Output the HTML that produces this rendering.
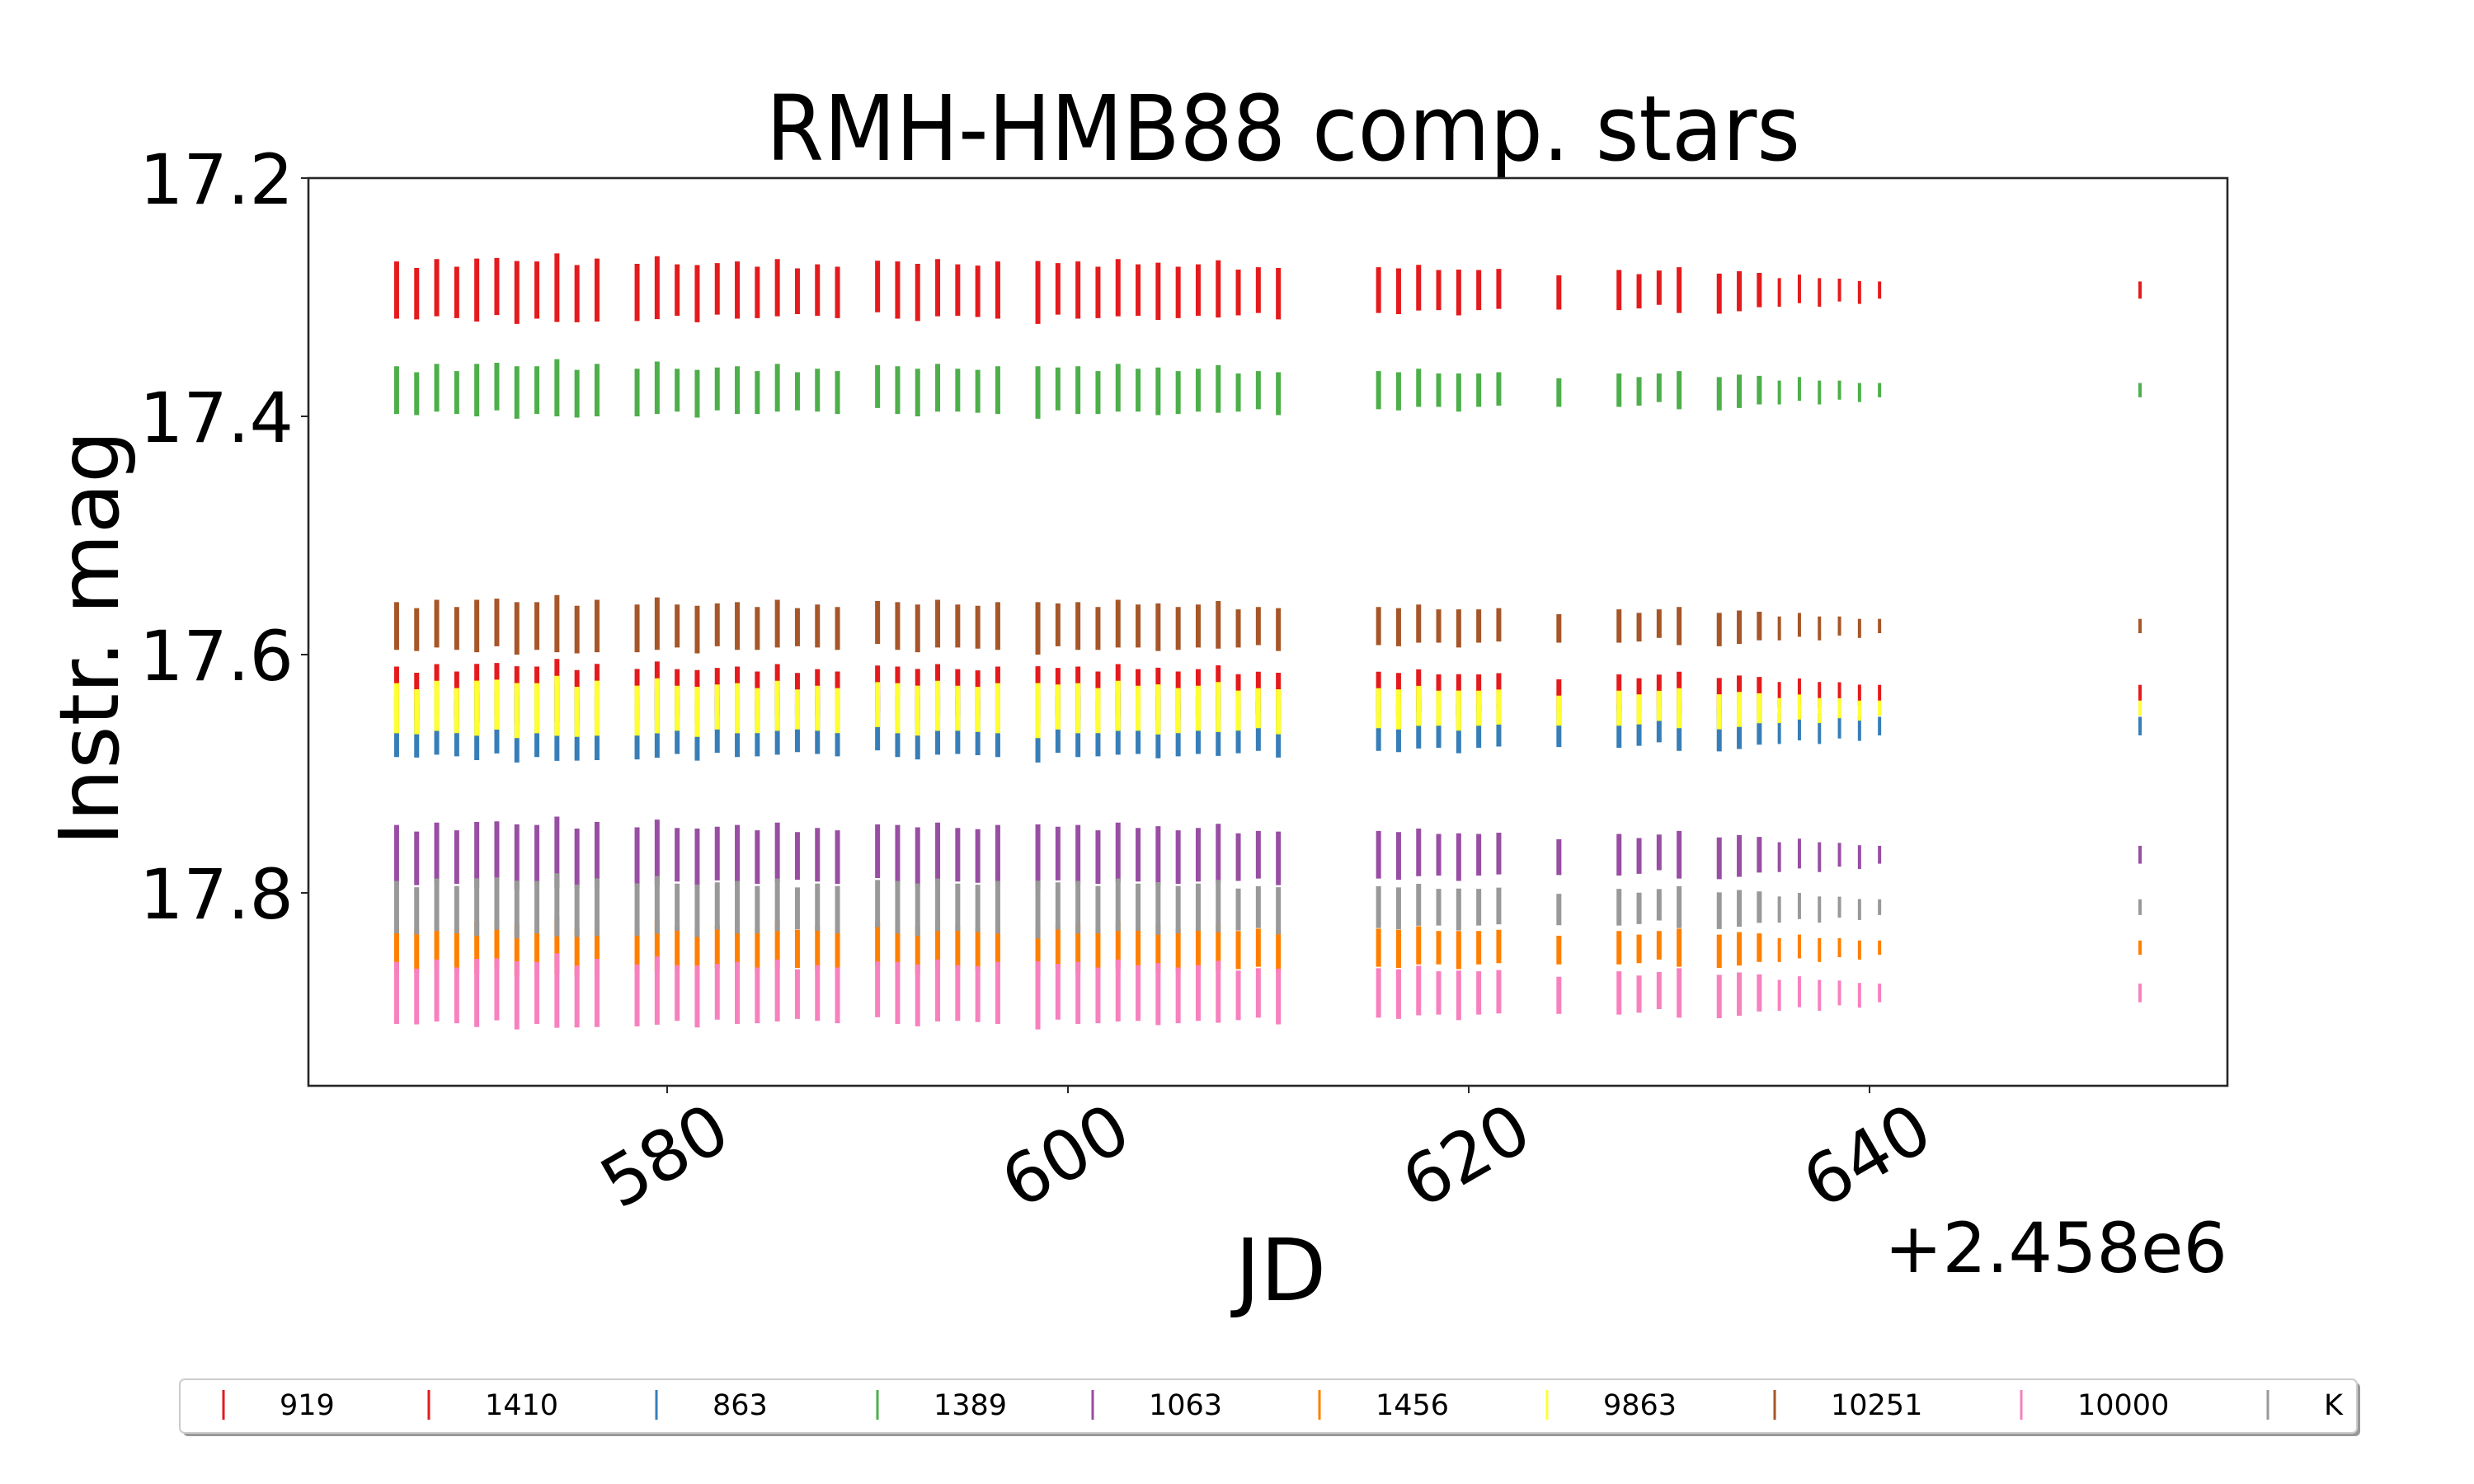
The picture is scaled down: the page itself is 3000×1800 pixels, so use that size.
<!DOCTYPE html>
<html><head><meta charset="utf-8"><style>
html,body{margin:0;padding:0;background:#fff;}
svg{display:block;font-family:"DejaVu Sans","Liberation Sans",sans-serif;}
</style></head><body>
<svg id="chart" width="3000" height="1800" viewBox="0 0 3000 1800" xmlns="http://www.w3.org/2000/svg">
<rect width="3000" height="1800" fill="#fff"/>
<text x="929" y="194" font-size="110" textLength="1254" lengthAdjust="spacingAndGlyphs">RMH-HMB88 comp. stars</text>
<g id="marks"></g>
<rect x="374" y="216" width="2327" height="1101" fill="none" stroke="#262626" stroke-width="2.6"/>
<g id="xticks"></g>
<g id="yticks"></g>
<text x="1553" y="1577" font-size="104" text-anchor="middle">JD</text>
<text x="2701" y="1543" font-size="84" text-anchor="end">+2.458e6</text>
<text transform="translate(143,774) rotate(-90)" font-size="100" text-anchor="middle" textLength="504" lengthAdjust="spacingAndGlyphs">Instr. mag</text>
<g>
<rect x="222" y="1677" width="2640" height="65" rx="6" fill="#999"/>
<rect x="218" y="1673" width="2640" height="65" rx="6" fill="#fff" stroke="#ccc" stroke-width="2"/>
<g id="legend-items"></g>
</g>
</svg>
<script>
const nights = [566.5,567.5,568.5,569.5,570.5,571.5,572.5,573.5,574.5,575.5,576.5,
578.5,579.5,580.5,581.5,582.5,583.5,584.5,585.5,586.5,587.5,588.5,
590.5,591.5,592.5,593.5,594.5,595.5,596.5,
598.5,599.5,600.5,601.5,602.5,603.5,604.5,605.5,606.5,607.5,608.5,609.5,610.5,
615.5,616.5,617.5,618.5,619.5,620.5,621.5,
624.5,
627.5,628.5,629.5,630.5,
632.5,633.5,634.5,635.5,636.5,637.5,638.5,639.5,640.5,
653.5];
const nightAmp = [1.0,0.9,1.0,0.9,1.1,1.0,1.1,1.0,1.2,1.0,1.1,
1.0,1.1,0.9,1.0,0.9,1.0,0.9,1.0,0.8,0.9,0.9,
0.9,1.0,1.0,1.0,0.9,0.9,1.0,
1.1,0.9,1.0,0.9,1.0,0.9,1.0,0.9,0.9,1.0,0.8,0.8,0.9,
0.8,0.8,0.8,0.7,0.8,0.7,0.7,
0.6,
0.7,0.6,0.6,0.8,
0.7,0.7,0.6,0.5,0.5,0.5,0.4,0.4,0.3,
0.3];
const nightShift = [0,0.003,-0.002,0.002,0,-0.003,0.002,0,-0.002,0.003,0,
0.002,-0.002,0,0.003,-0.001,0,0.002,-0.002,0.001,0,0.002,
-0.003,0,0.002,-0.002,0,0.001,0,
0.002,-0.001,0,0.002,-0.002,0,0.001,0.002,0,-0.001,0.002,0,0.003,
0,0.001,-0.002,0,0.002,0,-0.001,
0.002,
0,0.001,-0.002,0,
0.003,0.001,0,0.002,-0.001,0.002,0,0.002,0,
0];
const starNames = ["919","1410","863","1389","1063","1456","9863","10251","10000","K"];
const starColors = ["#e41a1c","#e41a1c","#377eb8","#4daf4a","#984ea3","#ff7f00","#ffff33","#a65628","#f781bf","#999999"];
const starMag = [17.294,17.632,17.660,17.378,17.768,17.846,17.645,17.576,17.884,17.812];
const starHalf = [0.024,0.022,0.026,0.020,0.025,0.020,0.021,0.020,0.026,0.022];
const xTicks = [580,600,620,640];
const yTicks = [17.2,17.4,17.6,17.8];

const NS="http://www.w3.org/2000/svg";
const L=374,R=2701,T=216,B=1317;
function xs(j){return 809+(j-580)*24.3;}
function ys(m){return 216+(m-17.2)*1445;}
function mk(tag,attrs,parent){const e=document.createElementNS(NS,tag);for(const k in attrs)e.setAttribute(k,attrs[k]);parent.appendChild(e);return e;}

const marks=document.getElementById('marks');
for(let s=0;s<starNames.length;s++){
  const g=mk('g',{},marks);
  
  
  for(let i=0;i<nights.length;i++){
    const a=nightAmp[i], h=starHalf[s]*a, c=starMag[s]+nightShift[i];
    const w=a<0.6?4:6;
    const ln=mk('line',{x1:xs(nights[i]),x2:xs(nights[i]),y1:ys(c-h),y2:ys(c+h),stroke:starColors[s],'stroke-width':w},g);
    
    
  }
}
const xg=document.getElementById('xticks');
xTicks.forEach(t=>{
  const x=xs(t);
  const tk=mk('line',{x1:x,x2:x,y1:B,y2:B+9,stroke:'#262626','stroke-width':2},xg);
  
  
  const tx=mk('text',{transform:`translate(${x-3},${B+85}) rotate(-30)`,'font-size':84,'text-anchor':'middle','dominant-baseline':'central'},xg);
  tx.textContent=t;
  
  
});
const yg=document.getElementById('yticks');
yTicks.forEach(t=>{
  const y=ys(t);
  const tk=mk('line',{x1:L-9,x2:L,y1:y,y2:y,stroke:'#262626','stroke-width':2},yg);
  
  
  const tx=mk('text',{x:356,y:y+31,'font-size':84,'text-anchor':'end'},yg);
  tx.textContent=t.toFixed(1);
  
  
});
const legX=[271,520,796,1064,1325,1600,1876,2152,2451,2750];
const lg=document.getElementById('legend-items');
starNames.forEach((n,i)=>{
  const g=mk('g',{},lg);
  
  
  const m=mk('line',{x1:legX[i],x2:legX[i],y1:1686,y2:1722,stroke:starColors[i],'stroke-width':3},g);
  
  
  const t=mk('text',{x:legX[i]+68,y:1716,'font-size':35},g);
  t.textContent=n;
  
  
});
</script>
</body></html>
